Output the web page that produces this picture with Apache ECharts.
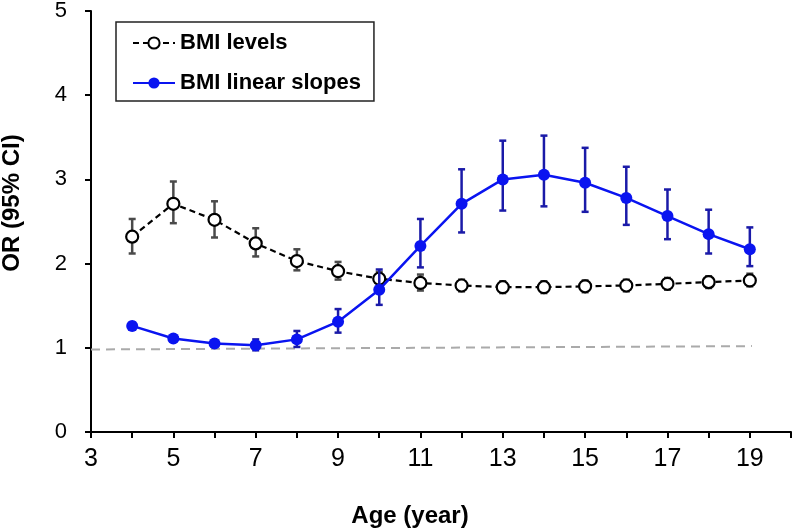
<!DOCTYPE html>
<html>
<head>
<meta charset="utf-8">
<script src="https://cdn.jsdelivr.net/npm/echarts@6/dist/echarts.min.js"></script>
<style>
html,body{margin:0;padding:0;background:#fff;}
#chart{width:800px;height:532px;}
</style>
</head>
<body>
<div id="chart"></div>
<script>
const ages = [4, 5, 6, 7, 8, 9, 10, 11, 12, 13, 14, 15, 16, 17, 18, 19];
const levels = [2.32, 2.71, 2.52, 2.24, 2.03, 1.91, 1.82, 1.77, 1.74, 1.72, 1.72, 1.73, 1.74, 1.76, 1.78, 1.80];
const levelsLow = [2.12, 2.48, 2.31, 2.085, 1.92, 1.81, 1.74, 1.68, 1.67, 1.65, 1.65, 1.66, 1.67, 1.69, 1.71, 1.73];
const levelsHigh = [2.53, 2.975, 2.74, 2.42, 2.17, 2.02, 1.90, 1.87, 1.81, 1.79, 1.79, 1.80, 1.81, 1.83, 1.85, 1.88];
const slopes = [1.26, 1.11, 1.05, 1.03, 1.10, 1.31, 1.69, 2.21, 2.71, 3.00, 3.055, 2.96, 2.78, 2.565, 2.35, 2.17];
const slopesLow = [1.22, 1.08, 1.02, 0.97, 1.01, 1.18, 1.51, 1.955, 2.37, 2.63, 2.68, 2.615, 2.46, 2.29, 2.12, 1.97];
const slopesHigh = [1.30, 1.14, 1.08, 1.10, 1.20, 1.46, 1.93, 2.53, 3.12, 3.46, 3.52, 3.375, 3.15, 2.88, 2.64, 2.43];
const refX = [3, 19.05];
const refY = [0.98, 1.02];
const xTickLabels = ['3', '5', '7', '9', '11', '13', '15', '17', '19'];
const yTickLabels = ['0', '1', '2', '3', '4', '5'];
const seriesNames = ['BMI levels', 'BMI linear slopes'];
const xTitle = 'Age (year)';
const yTitle = 'OR (95% CI)';

const FONT = '"Liberation Sans", Arial, sans-serif';

function errData(lo, hi) {
  return ages.map((a, i) => [a, lo[i], hi[i]]);
}
function errRender(color) {
  return function (params, api) {
    const x = api.value(0);
    const pLo = api.coord([x, api.value(1)]);
    const pHi = api.coord([x, api.value(2)]);
    const hw = 3.5;
    const st = { stroke: color, lineWidth: 2.5 };
    return {
      type: 'group',
      children: [
        { type: 'line', shape: { x1: pLo[0], y1: pLo[1], x2: pHi[0], y2: pHi[1] }, style: st },
        { type: 'line', shape: { x1: pLo[0] - hw, y1: pLo[1], x2: pLo[0] + hw, y2: pLo[1] }, style: st },
        { type: 'line', shape: { x1: pHi[0] - hw, y1: pHi[1], x2: pHi[0] + hw, y2: pHi[1] }, style: st }
      ]
    };
  };
}

const chart = echarts.init(document.getElementById('chart'), null, { renderer: 'canvas' });
const option = {
  backgroundColor: '#ffffff',
  animation: false,
  textStyle: { fontFamily: FONT },
  grid: { left: 91, right: 9, top: 10, bottom: 100, containLabel: false },
  legend: {
    orient: 'vertical',
    left: 116,
    top: 22,
    data: seriesNames,
    itemWidth: 42,
    itemHeight: 14,
    itemGap: 16,
    padding: [9, 13, 6, 16],
    borderColor: '#222',
    borderWidth: 1.5,
    backgroundColor: '#fff',
    textStyle: { fontFamily: FONT, fontWeight: 'bold', fontSize: 22, color: '#000', lineHeight: 24 }
  },
  xAxis: {
    type: 'value',
    min: 3,
    max: 20,
    interval: 1,
    axisLine: { show: true, lineStyle: { color: '#000', width: 2 } },
    axisTick: { show: true, inside: false, length: 6, lineStyle: { color: '#000', width: 2 } },
    splitLine: { show: false },
    axisLabel: {
      margin: 15,
      fontSize: 25,
      color: '#000',
      fontFamily: FONT,
      formatter: function (v) {
        const s = String(v);
        return xTickLabels.indexOf(s) >= 0 ? s : '';
      }
    }
  },
  yAxis: {
    type: 'value',
    min: 0,
    max: 5,
    interval: 1,
    axisLine: { show: true, lineStyle: { color: '#000', width: 2 } },
    axisTick: { show: true, inside: false, length: 6, lineStyle: { color: '#000', width: 2 } },
    splitLine: { show: false },
    axisLabel: {
      margin: 24,
      fontSize: 22,
      color: '#000',
      fontFamily: FONT,
      formatter: function (v) {
        const s = String(v);
        return yTickLabels.indexOf(s) >= 0 ? s : '';
      }
    }
  },
  graphic: [
    {
      type: 'text', x: 410, y: 516,
      style: { text: xTitle, font: 'bold 24px ' + FONT, fill: '#000', textAlign: 'center', textVerticalAlign: 'middle' }
    },
    {
      type: 'text', x: 12, y: 203, rotation: Math.PI / 2,
      style: { text: yTitle, font: 'bold 24px ' + FONT, fill: '#000', textAlign: 'center', textVerticalAlign: 'middle' }
    }
  ],
  series: [
    {
      name: 'ref',
      type: 'line',
      data: refX.map((x, i) => [x, refY[i]]),
      symbol: 'none',
      silent: true,
      lineStyle: { color: '#aaaaaa', width: 2, type: [9, 6] },
      z: 1
    },
    {
      name: 'levelsErr',
      type: 'custom',
      data: errData(levelsLow, levelsHigh),
      renderItem: errRender('#4a4a4a'),
      encode: { x: 0, y: [1, 2] },
      silent: true,
      z: 2
    },
    {
      name: seriesNames[0],
      type: 'line',
      data: ages.map((a, i) => [a, levels[i]]),
      symbol: 'circle',
      symbolSize: 12,
      showSymbol: true,
      itemStyle: { color: '#ffffff', borderColor: '#000000', borderWidth: 2.2 },
      lineStyle: { color: '#000000', width: 2.2, type: [6, 4] },
      z: 3
    },
    {
      name: 'slopesErr',
      type: 'custom',
      data: errData(slopesLow, slopesHigh),
      renderItem: errRender('#1a1aa8'),
      encode: { x: 0, y: [1, 2] },
      silent: true,
      z: 4
    },
    {
      name: seriesNames[1],
      type: 'line',
      data: ages.map((a, i) => [a, slopes[i]]),
      symbol: 'circle',
      symbolSize: 12,
      showSymbol: true,
      itemStyle: { color: '#0a14f0', borderColor: '#0a14f0', borderWidth: 0 },
      lineStyle: { color: '#0a14f0', width: 2.5 },
      z: 5
    }
  ]
};
chart.setOption(option);
</script>
</body>
</html>
